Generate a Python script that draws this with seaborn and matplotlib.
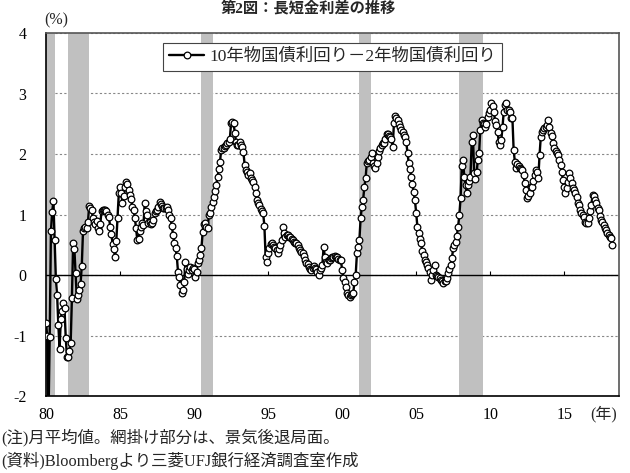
import numpy as np
import pandas as pd
import matplotlib
matplotlib.use('Agg')
import matplotlib.pyplot as plt
import seaborn as sns


### data (monthly, 10y - 2y treasury yield spread, %)
spread_1980s = [
    -0.80, -1.00, -2.40, -1.02, 0.73, 1.04, 1.22, 0.58, -0.07, -0.33, -0.82, -1.23,   # 1980
    -0.73, -0.60, -0.46, -0.55, -1.04, -1.35, -1.35, -1.25, -1.12, -0.38, 0.53, 0.43,  # 1981
    0.03, -0.40, -0.33, -0.25, -0.15, 0.15, 0.73, 0.77, 0.80, 0.77, 0.88, 1.14,       # 1982
    1.10, 1.07, 0.95, 0.88, 0.85, 0.90, 0.77, 0.72, 0.85, 1.05, 1.07, 1.07,           # 1983
    1.07, 1.05, 1.00, 0.96, 0.80, 0.68, 0.51, 0.43, 0.30, 0.57, 0.95, 1.35,           # 1984
    1.46, 1.35, 1.19, 1.30, 1.45, 1.54, 1.50, 1.40, 1.33, 1.25, 1.13, 1.07,           # 1985
    0.95, 0.77, 0.58, 0.60, 0.73, 0.80, 0.86, 0.83, 1.19, 1.05, 0.99, 0.86,           # 1986
    0.88, 0.84, 0.86, 0.91, 1.02, 1.05, 1.07, 1.12, 1.21, 1.18, 1.14, 1.11,           # 1987
    1.11, 1.10, 1.12, 1.08, 1.00, 0.94, 0.81, 0.66, 0.53, 0.45, 0.31, 0.05,           # 1988
    -0.03, -0.17, -0.30, -0.25, -0.11, 0.22, 0.10, 0.02, 0.08, 0.14, 0.08, 0.12,      # 1989
]
spread_1990s = [
    0.10, -0.03, 0.05, 0.20, 0.25, 0.33, 0.45, 0.71, 0.84, 0.86, 0.80, 0.77,          # 1990
    0.99, 1.02, 1.12, 1.20, 1.29, 1.39, 1.49, 1.62, 1.75, 1.87, 2.07, 2.10,           # 1991
    2.10, 2.13, 2.15, 2.18, 2.20, 2.25, 2.51, 2.53, 2.51, 2.35, 2.20, 2.15,           # 1992
    2.15, 2.20, 2.15, 2.12, 2.03, 1.82, 1.74, 1.70, 1.65, 1.69, 1.60, 1.57,           # 1993
    1.54, 1.45, 1.35, 1.24, 1.19, 1.15, 1.09, 1.05, 1.02, 0.81, 0.30, 0.22,           # 1994
    0.36, 0.45, 0.51, 0.53, 0.50, 0.47, 0.45, 0.41, 0.36, 0.43, 0.50, 0.58,           # 1995
    0.79, 0.70, 0.63, 0.66, 0.66, 0.63, 0.62, 0.60, 0.58, 0.55, 0.53, 0.53,           # 1996
    0.50, 0.45, 0.41, 0.38, 0.36, 0.31, 0.25, 0.20, 0.18, 0.13, 0.10, 0.08,           # 1997
    0.12, 0.15, 0.12, 0.10, 0.05, 0.00, 0.08, 0.12, 0.17, 0.46, 0.30, 0.22,           # 1998
    0.20, 0.25, 0.25, 0.28, 0.30, 0.30, 0.32, 0.30, 0.30, 0.27, 0.25, 0.25,           # 1999
]
spread_2000s = [
    0.08, -0.05, -0.12, -0.20, -0.30, -0.33, -0.36, -0.33, -0.32, -0.30, -0.11, 0.00,  # 2000
    0.36, 0.46, 0.58, 0.94, 1.13, 1.24, 1.45, 1.60, 1.85, 1.88, 1.90, 1.95,           # 2001
    2.01, 1.85, 1.80, 1.77, 1.85, 1.95, 2.05, 2.10, 2.15, 2.18, 2.18, 2.25,           # 2002
    2.33, 2.33, 2.30, 2.28, 2.25, 2.12, 2.51, 2.63, 2.60, 2.57, 2.50, 2.45,           # 2003
    2.40, 2.37, 2.32, 2.28, 2.20, 2.01, 1.85, 1.75, 1.62, 1.50, 1.37, 1.24,           # 2004
    1.03, 0.80, 0.69, 0.60, 0.53, 0.39, 0.33, 0.25, 0.22, 0.17, 0.12, 0.05,           # 2005
    -0.08, 0.00, 0.08, 0.17, 0.00, -0.02, -0.03, -0.05, -0.08, -0.10, -0.13, -0.10,   # 2006
    -0.10, -0.05, 0.03, 0.10, 0.17, 0.28, 0.44, 0.50, 0.55, 0.65, 0.80, 0.99,         # 2007
    1.27, 1.80, 1.90, 1.62, 1.49, 1.36, 1.49, 1.55, 1.62, 2.20, 2.31, 1.69,           # 2008
    1.59, 1.70, 1.90, 2.01, 2.40, 2.56, 2.52, 2.50, 2.45, 2.50, 2.61, 2.68,           # 2009
]
spread_2010s = [
    2.73, 2.84, 2.80, 2.69, 2.55, 2.48, 2.36, 2.20, 2.15, 2.23, 2.45, 2.70,           # 2010
    2.81, 2.84, 2.73, 2.73, 2.70, 2.60, 2.60, 2.07, 1.87, 1.77, 1.83, 1.80,           # 2011
    1.77, 1.75, 1.74, 1.65, 1.52, 1.40, 1.27, 1.30, 1.36, 1.45, 1.45, 1.55,           # 2012
    1.65, 1.74, 1.70, 1.60, 1.98, 2.28, 2.36, 2.40, 2.43, 2.45, 2.48, 2.56,           # 2013
    2.45, 2.35, 2.30, 2.18, 2.10, 2.05, 2.01, 1.98, 1.90, 1.82, 1.70, 1.57,           # 2014
    1.45, 1.36, 1.44, 1.54, 1.69, 1.60, 1.52, 1.44, 1.40, 1.35, 1.29, 1.19,           # 2015
    1.15, 1.07, 1.02, 1.00, 0.96, 0.88, 0.86, 0.86, 0.94, 1.05, 1.16, 1.32,           # 2016
    1.30, 1.24, 1.19, 1.10, 1.07, 0.98, 0.91, 0.88, 0.83, 0.78, 0.74, 0.69,           # 2017
    0.66, 0.63, 0.61, 0.50,                                                           # 2018
]

# recession periods (shaded)
recession_start = ['1980-01', '1981-07', '1990-07', '2001-03', '2007-12']
recession_end = ['1980-08', '1982-12', '1991-04', '2001-12', '2009-07']

year_ticks = [1980, 1985, 1990, 1995, 2000, 2005, 2010, 2015]
year_labels = ['80', '85', '90', '95', '00', '05', '10', '15']
y_ticks = [-2, -1, 0, 1, 2, 3, 4]
y_labels = ['-2', '-1', '0', '1', '2', '3', '4']

legend_label = '10年物国債利回り－2年物国債利回り'


def to_year(s):
    d = pd.Timestamp(s)
    return d.year + (d.month - 1) / 12


spread = spread_1980s + spread_1990s + spread_2000s + spread_2010s
dates = pd.date_range('1980-01-01', periods=len(spread), freq='MS')
df = pd.DataFrame({'year': dates.year + (dates.month - 1) / 12, 'spread': spread})


#%% plot
sns.set_theme(style='white')
plt.rcParams['font.family'] = ['Liberation Serif', 'Noto Sans CJK JP']
plt.rcParams['font.size'] = 11

fig = plt.figure(figsize=(6.3, 4.73), dpi=100)
ax = fig.add_axes([46 / 630, 1 - 396 / 473, 573 / 630, 363 / 473])

ax.yaxis.grid(True, color='#888888', linestyle=(0, (2, 2)), linewidth=0.8, zorder=0)
ax.set_axisbelow(True)

for s, e in zip(recession_start, recession_end):
    ax.axvspan(to_year(s), to_year(e), color='#c0c0c0', lw=0, zorder=1)

ax.axhline(0, color='black', lw=1.0, zorder=2)
ax.vlines(year_ticks[1:], 0, 0.07, color='black', lw=0.8, zorder=2)

sns.lineplot(data=df, x='year', y='spread', ax=ax, sort=False,
             color='black', lw=1.7, marker='o', markersize=4.8,
             markerfacecolor='white', markeredgecolor='black', markeredgewidth=0.9,
             label=legend_label, zorder=3)

ax.set_xlim(1980, 2018.7)
ax.set_ylim(-2, 4)
ax.set_xticks(year_ticks)
ax.set_xticklabels(year_labels)
ax.set_yticks(y_ticks)
ax.set_yticklabels(y_labels)
ax.tick_params(axis='x', length=0, pad=8, labelsize=11.5, colors='black')
ax.tick_params(axis='y', length=0, pad=14, labelsize=11.5, colors='black')
ax.set_xlabel('')
ax.set_ylabel('')

for side in ['left', 'bottom']:
    ax.spines[side].set_color('black')
    ax.spines[side].set_linewidth(1.2)
for side in ['top', 'right']:
    ax.spines[side].set_color('#555555')
    ax.spines[side].set_linewidth(1.2)

leg = ax.legend(loc='upper center', bbox_to_anchor=(0.5, 1 - 10 / 363), borderaxespad=0,
                frameon=True, fancybox=False, edgecolor='#444444', framealpha=1,
                fontsize=12.5, handlelength=2.0, borderpad=0.35, handletextpad=0.3)
leg.get_frame().set_linewidth(0.8)

fig.text(56 / 630, 1 - 20 / 473, '(%)', ha='center', va='center', fontsize=11.5)
fig.text(604 / 630, 1 - 414 / 473, '(年)', ha='center', va='center', fontsize=11.5)
fig.text(0.002, 1 - 438 / 473, '(注)月平均値。網掛け部分は、景気後退局面。', ha='left', va='center', fontsize=11.8)
fig.text(0.002, 1 - 461 / 473, '(資料)Bloombergより三菱UFJ銀行経済調査室作成', ha='left', va='center', fontsize=11.8)
fig.text(308 / 630, 0.999, '第2図：長短金利差の推移', ha='center', va='top',
         fontsize=11, fontweight='bold')

fig.savefig('out.png', dpi=100)
